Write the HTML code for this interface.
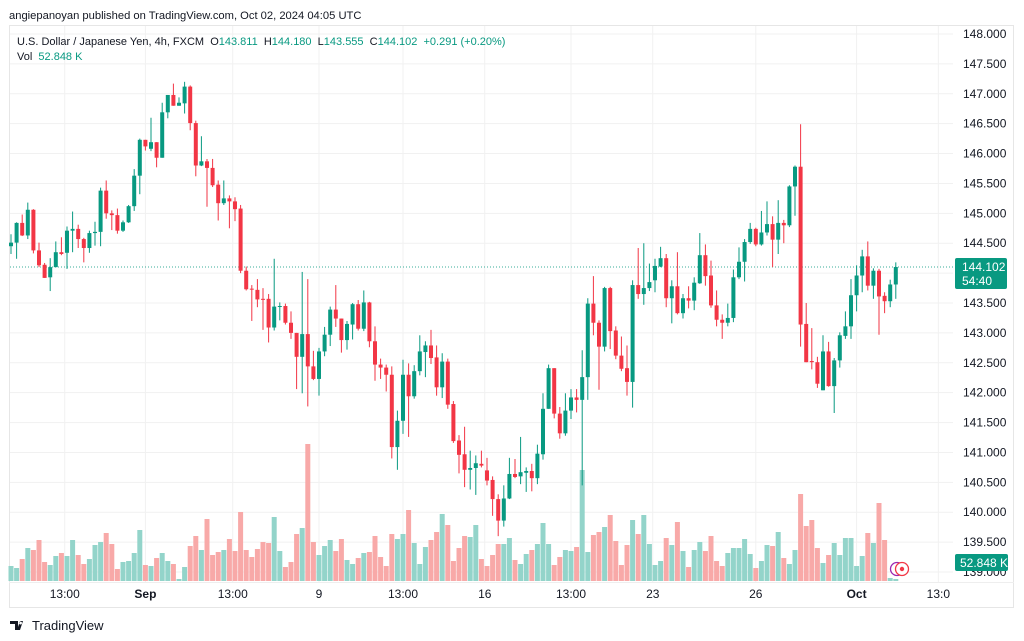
<!DOCTYPE html>
<html><head><meta charset="utf-8">
<style>
body{margin:0;background:#fff;font-family:"Liberation Sans",sans-serif;}
#wrap{position:relative;width:1024px;height:641px;overflow:hidden;background:#fff;}
svg{position:absolute;left:0;top:0;}
</style></head><body>
<div id="wrap">
<svg id="chart" width="1024" height="641"></svg>
</div>
<script>
const opens=[144.45,144.51,144.84,144.63,145.06,144.38,144.14,143.93,144.10,144.35,144.34,144.71,144.74,144.57,144.42,144.67,144.69,145.38,145.0,144.97,144.71,144.85,145.12,145.63,146.23,146.08,146.19,145.93,146.69,146.98,146.8,146.84,147.12,146.51,145.8,145.87,145.76,145.48,145.17,145.25,145.2,145.08,144.04,143.74,143.72,143.57,143.57,143.09,143.44,143.45,143.17,143.0,142.6,142.98,142.44,142.23,142.69,142.97,143.39,143.24,142.88,143.14,143.48,143.07,143.51,142.86,142.47,142.42,142.3,141.09,141.53,142.3,141.94,142.36,142.68,142.79,142.59,142.09,142.52,141.81,141.2,140.97,140.71,140.74,140.81,140.7,140.54,140.22,139.86,140.23,140.64,140.6,140.66,140.69,140.57,140.97,141.73,142.41,141.65,141.32,141.7,141.92,141.88,142.26,143.49,143.17,142.77,143.75,143.04,142.62,142.41,142.18,143.8,143.65,143.75,143.88,144.11,144.25,143.58,143.78,143.33,143.58,143.54,143.83,144.3,143.96,143.46,143.22,143.17,143.25,143.93,144.19,144.52,144.74,144.48,144.68,144.82,144.56,144.84,144.8,145.45,145.78,143.15,142.53,142.51,142.04,142.69,142.11,142.54,142.95,143.11,143.63,143.96,144.28,143.79,144.04,143.62,143.53,143.81];
const highs=[144.65,144.85,144.98,145.18,145.07,144.51,144.17,144.25,144.53,144.60,144.78,145.03,144.81,144.59,144.71,144.86,145.43,145.55,145.05,145.08,144.88,145.14,145.74,146.25,146.23,146.6,146.19,146.85,146.98,147.17,146.94,147.2,147.14,146.55,146.29,145.91,145.91,145.55,145.55,145.3,145.27,145.14,144.11,143.8,143.9,143.75,143.65,144.24,143.51,143.49,143.36,143.0,144.02,143.9,142.7,142.75,143.1,143.44,143.8,143.24,143.2,143.5,143.55,143.71,143.52,143.11,142.57,142.47,142.44,141.7,142.55,142.49,142.46,142.96,142.86,143.05,142.79,142.66,142.57,141.86,141.29,141.43,141.03,140.95,141.03,140.91,140.6,140.3,140.45,140.91,140.89,141.26,140.75,140.81,141.13,141.99,142.47,142.41,141.76,141.99,142.06,142.06,142.71,143.58,143.95,143.21,143.77,143.77,143.11,142.94,142.79,143.88,144.42,144.5,144.16,144.24,144.44,144.32,143.88,144.35,143.65,143.78,143.93,144.67,144.48,144.21,143.71,143.31,143.49,144.06,144.43,144.57,144.84,144.76,145.04,145.2,144.95,145.22,144.89,145.47,145.8,146.49,143.5,143.08,142.6,142.96,142.85,142.58,143.01,143.36,143.9,144.13,144.39,144.53,144.08,144.07,143.68,143.89,144.18];
const lows=[144.32,144.24,144.62,144.57,144.33,144.10,143.92,143.70,144.10,144.30,144.07,144.35,144.42,144.18,144.34,144.46,144.45,144.91,144.72,144.66,144.69,144.84,145.04,145.32,146.05,146.04,145.77,145.93,146.59,146.8,146.8,146.67,146.39,145.62,145.79,145.11,145.44,144.88,145.14,144.75,144.87,144.0,143.71,143.2,143.43,143.05,142.84,143.04,143.21,143.14,142.9,142.06,141.99,141.77,142.21,141.95,142.61,142.78,143.1,142.67,142.72,142.89,143.04,143.03,142.76,142.2,142.23,142.02,140.9,140.71,141.31,141.26,141.9,142.29,142.26,142.48,141.95,141.91,141.73,141.16,140.65,140.42,140.38,140.29,140.75,140.45,139.94,139.6,139.76,140.22,140.57,140.47,140.34,140.35,140.47,140.88,141.73,141.57,141.23,141.28,141.56,141.67,140.45,141.88,142.96,142.05,142.69,142.73,142.56,142.36,141.95,141.75,143.57,143.47,143.7,143.68,144.1,143.43,143.16,143.31,143.24,143.41,143.38,143.82,143.79,143.42,143.11,142.9,143.11,143.18,143.9,143.86,144.49,144.45,144.46,144.63,144.1,144.32,144.5,144.77,144.96,142.77,142.51,142.39,142.08,142.04,142.1,141.66,142.42,142.9,142.9,143.36,143.68,143.71,143.57,142.97,143.33,143.43,143.57];
const closes=[144.51,144.84,144.63,145.06,144.38,144.13,143.92,144.10,144.35,144.32,144.71,144.74,144.57,144.42,144.67,144.69,145.38,145.0,144.97,144.71,144.85,145.12,145.63,146.23,146.12,146.19,145.93,146.69,146.98,146.8,146.85,147.12,146.51,145.8,145.87,145.76,145.47,145.17,145.25,145.2,145.07,144.04,143.73,143.73,143.56,143.56,143.09,143.44,143.45,143.17,143.0,142.6,142.98,142.44,142.23,142.69,142.97,143.39,143.24,142.88,143.15,143.48,143.07,143.51,142.86,142.47,142.42,142.3,141.09,141.53,142.3,141.94,142.36,142.69,142.79,142.58,142.09,142.52,141.8,141.19,140.96,140.71,140.74,140.82,140.78,140.53,140.22,139.86,140.23,140.64,140.59,140.67,140.69,140.57,140.98,141.73,142.41,141.65,141.32,141.7,141.92,141.88,142.26,143.49,143.17,142.77,143.75,143.03,142.62,142.4,142.18,143.8,143.65,143.75,143.85,144.12,144.25,143.58,143.78,143.33,143.58,143.54,143.84,144.3,143.95,143.46,143.22,143.17,143.25,143.93,144.19,144.52,144.74,144.48,144.68,144.82,144.56,144.84,144.8,145.45,145.78,143.14,142.51,142.51,142.15,142.69,142.11,142.54,142.96,143.11,143.63,143.96,144.28,143.79,144.04,143.61,143.53,143.81,144.102];
const volumes=[15,13,22,33,31,41,19,16,25,28,25,41,26,17,22,36,39,48,37,12,19,20,28,51,16,15,23,28,20,17,2,14,35,45,31,62,26,29,31,42,30,69,31,24,32,39,38,64,30,14,19,47,53,137,39,26,35,41,30,42,21,17,23,28,29,45,24,15,47,42,47,71,38,17,34,41,49,67,56,20,33,45,44,56,22,15,26,37,37,43,21,17,27,31,37,58,37,16,24,31,30,34,111,29,46,49,54,66,40,16,36,61,47,66,37,16,20,43,36,59,30,14,31,39,30,45,20,15,28,33,33,42,27,13,20,36,35,49,23,17,31,87,55,61,33,18,26,38,26,43,43,15,25,48,38,78,41,3,2];
const priceTicks=[148,147.5,147,146.5,146,145.5,145,144.5,144,143.5,143,142.5,142,141.5,141,140.5,140,139.5,139];
const timeLabels=["13:00","Sep","13:00","9","13:00","16","13:00","23","26","Oct","13:0"];
const timeLabelIdx=[9.6,24,39.6,55,70,84.6,100,114.6,133,151,165.6];

const NS="http://www.w3.org/2000/svg";
const svg=document.getElementById('chart');
const G="#089981",R="#F23645",GV="#93d4ca",RV="#f8a9a8";
function y(p){return 34+(148-p)*59.78;}
function x(i){return 11+i*5.6;}
function yv(v){return 581-v*1.0;}
function el(t,a,parent){const e=document.createElementNS(NS,t);for(const k in a)e.setAttribute(k,a[k]);(parent||svg).appendChild(e);return e;}

let fr=el('rect',{x:9.5,y:25.5,width:1004,height:582,fill:'none',stroke:'#e6e6e6'});


el('line',{x1:9,y1:582.5,x2:1014,y2:582.5,stroke:'#eeeeee'});
const grid=el('g',{});


priceTicks.forEach(p=>{el('line',{x1:10,x2:953,y1:y(p),y2:y(p),stroke:'#f1f1f1'},grid);});
timeLabelIdx.forEach(i=>{el('line',{x1:x(i),x2:x(i),y1:26,y2:582,stroke:'#f1f1f1'},grid);});
const pax=el('g',{'font-size':'12','fill':'#131722','font-family':'Liberation Sans, sans-serif'});


priceTicks.forEach(p=>{const t=el('text',{x:963,y:y(p)+4},pax);t.textContent=p.toFixed(3);

});
const tax=el('g',{'font-size':'12','fill':'#131722','text-anchor':'middle'});


timeLabels.forEach((l,k)=>{const t=el('text',{x:x(timeLabelIdx[k]),y:598},tax);t.textContent=l;
if(l==='Sep'||l==='Oct')t.setAttribute('font-weight','bold');

});
const vg=el('g',{});


volumes.forEach((v,i)=>{const up=closes[i]>=opens[i];
const b=el('rect',{x:x(i)-2.5,y:yv(v),width:5,height:581-yv(v),fill:up?GV:RV},vg);

});
const last=closes[closes.length-1];
el('line',{x1:10,x2:953,y1:y(last),y2:y(last),stroke:G,'stroke-dasharray':'1 2','stroke-width':1,opacity:0.8});
const cg=el('g',{});


opens.forEach((o,i)=>{const c=closes[i],up=c>=o,col=up?G:R,cx=x(i);
const w=el('line',{x1:cx,x2:cx,y1:y(highs[i]),y2:y(lows[i]),stroke:col,'stroke-width':1},cg);


const top=y(Math.max(o,c)),h=Math.max(1,Math.abs(y(o)-y(c)));
const b=el('rect',{x:cx-2,y:top,width:4,height:h,fill:col},cg);

});
const pl=el('g',{});


el('rect',{x:955,y:y(last)-9,width:52,height:31,rx:2,fill:G},pl);
let t1=el('text',{x:962,y:y(last)+4,'font-size':'12',fill:'#fff'},pl);t1.textContent=last.toFixed(3);
let t2=el('text',{x:962,y:y(last)+18,'font-size':'12',fill:'#fff'},pl);t2.textContent="54:40";
const vl=el('g',{});


el('rect',{x:955,y:554,width:53,height:17,rx:2,fill:G},vl);
let t3=el('text',{x:960,y:567,'font-size':'12',fill:'#fff'},vl);t3.textContent="52.848 K";
const ic=el('g',{});


el('circle',{cx:897,cy:569,r:6.5,fill:'#fff',stroke:'#9c27b0','stroke-width':1.3},ic);
el('circle',{cx:902,cy:569,r:6.5,fill:'#fff',stroke:R,'stroke-width':1.3},ic);
el('circle',{cx:902,cy:569,r:2.2,fill:R},ic);
function txt(s,a,name){const t=el('text',a);t.textContent=s;return t;}
txt("angiepanoyan published on TradingView.com, Oct 02, 2024 04:05 UTC",{x:9,y:19,'font-size':'11.2',fill:'#131722'},'publish-info');
const lg=el('text',{x:17,y:45,'font-size':'11',fill:'#131722'});


lg.innerHTML='U.S. Dollar / Japanese Yen, 4h, FXCM&#160; O<tspan fill="#089981">143.811</tspan>&#160; H<tspan fill="#089981">144.180</tspan>&#160; L<tspan fill="#089981">143.555</tspan>&#160; C<tspan fill="#089981">144.102</tspan>&#160; <tspan fill="#089981">+0.291 (+0.20%)</tspan>';
const vlg=el('text',{x:17,y:60,'font-size':'11',fill:'#131722'});


vlg.innerHTML='Vol&#160; <tspan fill="#089981">52.848 K</tspan>';
const lo=el('g',{});


el('path',{d:'M10 621h8v9h-3v-6h-5z M20 621h3l-3 9h-3z M20.5 621.5 a1.5 1.5 0 1 0 0.01 0',fill:'#131722'},lo);
let lt=el('text',{x:32,y:630,'font-size':'13',fill:'#131722'},lo);lt.textContent="TradingView";
</script>
</body></html>
